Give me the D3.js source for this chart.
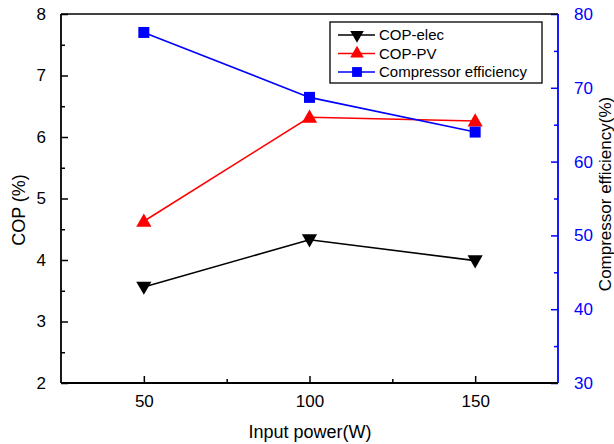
<!DOCTYPE html>
<html>
<head>
<meta charset="utf-8">
<script src="https://cdn.jsdelivr.net/npm/d3@7"></script>
<style>
  body { margin: 0; background: #fff; }
  text { font-family: "Liberation Sans", Arial, sans-serif; }
</style>
</head>
<body>
<div id="chart"></div>
<script>
// Chart data
const inputPower = [50, 100, 150];
const copElec = [3.56, 4.33, 3.99];
const copPV = [4.63, 6.32, 6.26];
const compEff = [77.5, 68.7, 64.0];

const xTicks = [50, 100, 150];
const yLeftTicks = [2, 3, 4, 5, 6, 7, 8];
const yRightTicks = [30, 40, 50, 60, 70, 80];

const width = 614, height = 444;
const margin = { left: 61, right: 56, top: 14, bottom: 61 };
const plotW = width - margin.left - margin.right;
const plotH = height - margin.top - margin.bottom;
const blue = '#0000ff', red = '#ff0000';

const svg = d3.select('#chart').append('svg')
  .attr('width', width)
  .attr('height', height);

const g = svg.append('g').attr('transform', `translate(${margin.left},${margin.top})`);

// Scales
const x = d3.scaleLinear().domain([25, 175]).range([0, plotW]);
const yL = d3.scaleLinear().domain([2, 8]).range([plotH, 0]);
const yR = d3.scaleLinear().domain([30, 80]).range([plotH, 0]);
const fmt = d3.format('d');

// Axes: ticks point inward, minor ticks at half steps
function styleAxis(sel, color, size) {
  sel.select('.domain').remove();
  sel.selectAll('line').attr('stroke', color).attr('stroke-width', 1.5);
  sel.selectAll('text').attr('fill', color).style('font-size', size + 'px');
}

const xAxis = g.append('g').attr('transform', `translate(0,${plotH})`)
  .call(d3.axisBottom(x).tickValues(xTicks).tickFormat(fmt).tickSizeInner(-7).tickPadding(12));
styleAxis(xAxis, '#000', 17);
g.append('g').attr('transform', `translate(0,${plotH})`)
  .call(d3.axisBottom(x).tickValues([75, 125]).tickSizeInner(-4).tickFormat(''))
  .call(s => styleAxis(s, '#000', 17));

const yLAxis = g.append('g')
  .call(d3.axisLeft(yL).tickValues(yLeftTicks).tickFormat(fmt).tickSizeInner(-7).tickPadding(15));
styleAxis(yLAxis, '#000', 17);
g.append('g')
  .call(d3.axisLeft(yL).tickValues(d3.range(2.5, 8, 1)).tickSizeInner(-4).tickFormat(''))
  .call(s => styleAxis(s, '#000', 17));

const yRAxis = g.append('g').attr('transform', `translate(${plotW},0)`)
  .call(d3.axisRight(yR).tickValues(yRightTicks).tickFormat(fmt).tickSizeInner(-7).tickPadding(16));
styleAxis(yRAxis, blue, 17);
g.append('g').attr('transform', `translate(${plotW},0)`)
  .call(d3.axisRight(yR).tickValues(d3.range(35, 80, 10)).tickSizeInner(-4).tickFormat(''))
  .call(s => styleAxis(s, blue, 17));

// Frame
g.append('line').attr('x1', 0).attr('x2', plotW).attr('y1', 0).attr('y2', 0)
  .attr('stroke', '#000').attr('stroke-width', 1.5);
g.append('line').attr('x1', 0).attr('x2', plotW).attr('y1', plotH).attr('y2', plotH)
  .attr('stroke', '#000').attr('stroke-width', 1.8);
g.append('line').attr('x1', 0).attr('x2', 0).attr('y1', 0).attr('y2', plotH)
  .attr('stroke', '#000').attr('stroke-width', 1.8);
g.append('line').attr('x1', plotW).attr('x2', plotW).attr('y1', 0).attr('y2', plotH)
  .attr('stroke', blue).attr('stroke-width', 1.8);

// Series
const series = [
  { name: 'COP-elec', values: copElec, scale: yL, color: '#000', shape: d3.symbolTriangle, rot: 180, size: 100 },
  { name: 'COP-PV', values: copPV, scale: yL, color: red, shape: d3.symbolTriangle, rot: 0, size: 100 },
  { name: 'Compressor efficiency', values: compEff, scale: yR, color: blue, shape: d3.symbolSquare, rot: 0, size: 121 }
];

series.forEach(s => {
  const pts = inputPower.map((p, i) => [x(p), s.scale(s.values[i])]);
  g.append('path')
    .attr('d', d3.line()(pts))
    .attr('fill', 'none')
    .attr('stroke', s.color)
    .attr('stroke-width', 1.6);
  g.selectAll(null).data(pts).enter().append('path')
    .attr('d', d3.symbol().type(s.shape).size(s.size))
    .attr('transform', d => `translate(${d[0]},${d[1] + (s.shape === d3.symbolTriangle ? (s.rot ? -1 : 1) : 0)}) rotate(${s.rot})`)
    .attr('fill', s.color);
});

// Legend
const legend = svg.append('g').attr('transform', 'translate(330,22)');
legend.append('rect').attr('width', 212).attr('height', 61)
  .attr('fill', '#fff').attr('stroke', '#000').attr('stroke-width', 1.3);
series.forEach((s, i) => {
  const yy = 13 + i * 18.5;
  legend.append('line').attr('x1', 8).attr('x2', 45).attr('y1', yy).attr('y2', yy)
    .attr('stroke', s.color).attr('stroke-width', 1.4);
  legend.append('path')
    .attr('d', d3.symbol().type(s.shape).size(s.size * 0.8))
    .attr('transform', `translate(27,${yy}) rotate(${s.rot})`)
    .attr('fill', s.color);
  legend.append('text').attr('x', 49).attr('y', yy).attr('dy', '0.35em')
    .style('font-size', '15px').text(s.name);
});

// Axis titles
svg.append('text').attr('x', 310).attr('y', 438)
  .attr('text-anchor', 'middle').style('font-size', '18px').text('Input power(W)');
svg.append('text').attr('transform', 'translate(25,210) rotate(-90)')
  .attr('text-anchor', 'middle').style('font-size', '18px').text('COP (%)');
svg.append('text').attr('transform', 'translate(611,194) rotate(-90)')
  .attr('text-anchor', 'middle').style('font-size', '17px').text('Compressor efficiency(%)');
</script>
</body>
</html>
